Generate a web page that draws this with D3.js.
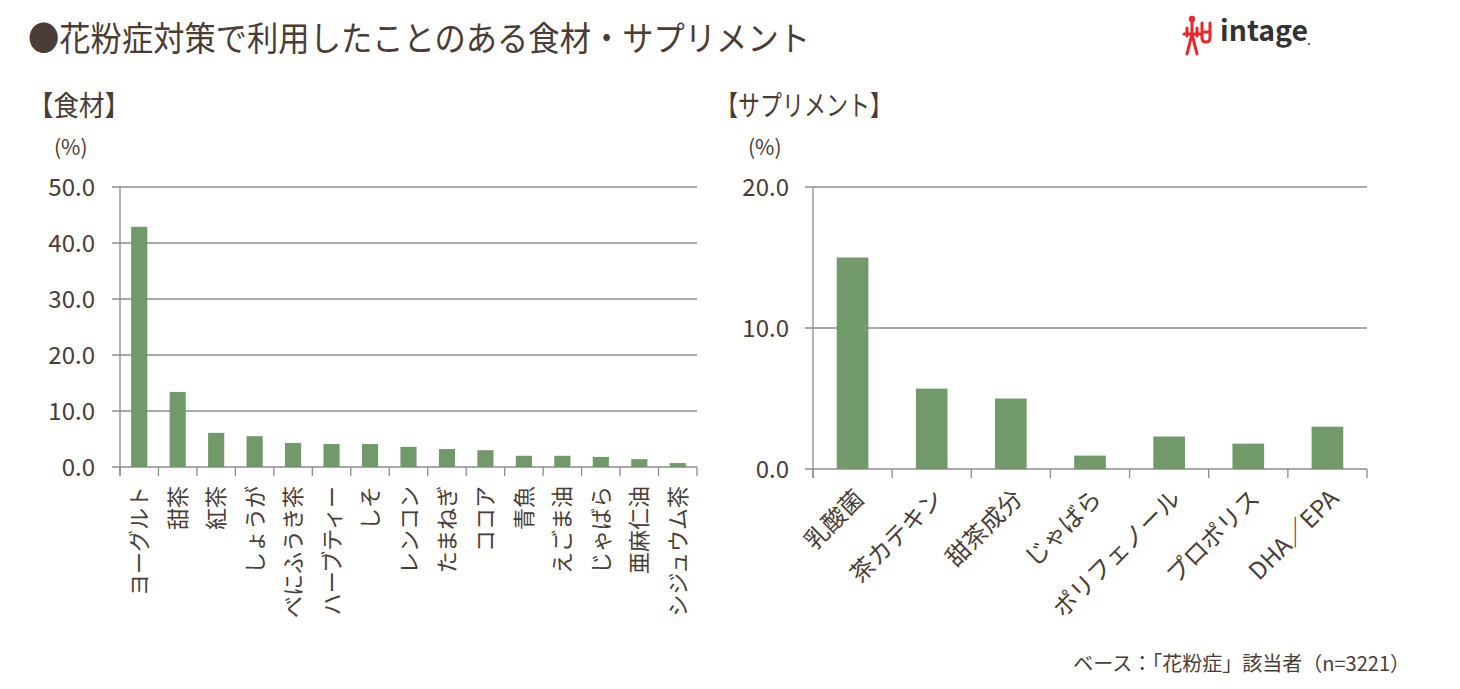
<!DOCTYPE html>
<html><head><meta charset="utf-8">
<script src="https://cdn.jsdelivr.net/npm/d3@7/dist/d3.min.js"></script>
<style>
body{margin:0;background:#fff;}
text{font-family:"Noto Sans CJK JP","Noto Sans",sans-serif;fill:#4a3c36;}
</style></head><body>
<svg id="c" width="1460" height="689"></svg>
<script>
const foodCats = ["ヨーグルト","甜茶","紅茶","しょうが","べにふうき茶","ハーブティー","しそ","レンコン","たまねぎ","ココア","青魚","えごま油","じゃばら","亜麻仁油","シジュウム茶"];
const foodVals = [42.9,13.4,6.1,5.5,4.3,4.1,4.1,3.6,3.2,3.0,2.0,2.0,1.8,1.4,0.7];
const foodTicks = [0,10,20,30,40,50];
const supCats = ["乳酸菌","茶カテキン","甜茶成分","じゃばら","ポリフェノール","プロポリス","DHA／EPA"];
const supVals = [15.0,5.7,5.0,0.95,2.3,1.8,3.0];
const supTicks = [0,10,20];

const svg = d3.select("#c");
const grid = "#8c8c8c", barC = "#71996a";

// title
svg.append("text").attr("x",28).attr("y",51).attr("font-size",34)
  .attr("textLength",782).attr("lengthAdjust","spacingAndGlyphs")
  .text("●花粉症対策で利用したことのある食材・サプリメント");
svg.append("text").attr("x",28).attr("y",116).attr("font-size",28)
  .attr("textLength",102).attr("lengthAdjust","spacingAndGlyphs").text("【食材】");
svg.append("text").attr("x",716).attr("y",116).attr("font-size",28)
  .attr("textLength",176).attr("lengthAdjust","spacingAndGlyphs").text("【サプリメント】");

// logo
const lg = svg.append("g").attr("transform","translate(1183,14)");
const red="#e8262b";
lg.append("circle").attr("cx",9).attr("cy",5).attr("r",3.2).attr("fill",red);
lg.append("path").attr("d","M9,8 L9,20 M1,20 L17,20 M9,20 L4,40 M9,20 L14,40 M4,14 L4,22 M14,14 L14,22 M19,9 L19,24 Q19,28 23,28 Q27,28 27,24 L27,9 M19,18 L27,18")
  .attr("stroke",red).attr("stroke-width",3).attr("fill","none").attr("stroke-linecap","round");
svg.append("text").attr("x",1220).attr("y",41).attr("font-size",28).attr("font-weight","bold")
  .attr("font-family","Roboto, 'Noto Sans', sans-serif").style("fill","#333")
  .attr("textLength",88).attr("lengthAdjust","spacingAndGlyphs").text("intage");
svg.append("circle").attr("cx",1309).attr("cy",44).attr("r",1).attr("fill","#333");

function chart(cats, vals, ticks, x0, x1, yTop, yBot, barFrac, rot, pctX, tickLblRight){
  const x = d3.scaleBand().domain(cats).range([x0,x1]).padding(0);
  const y = d3.scaleLinear().domain([0,ticks[ticks.length-1]]).range([yBot,yTop]);
  const g = svg.append("g");
  g.selectAll(".gl").data(ticks).join("line")
    .attr("x1",x0-8).attr("x2",x1).attr("y1",d=>y(d)).attr("y2",d=>y(d))
    .attr("stroke",grid).attr("stroke-width",1.3);
  g.append("line").attr("x1",x0).attr("x2",x0).attr("y1",yTop).attr("y2",yBot+9).attr("stroke",grid).attr("stroke-width",1.3);
  const bounds = d3.range(cats.length+1).map(i=>x0+i*x.bandwidth());
  g.selectAll(".xt").data(bounds).join("line")
    .attr("x1",d=>d).attr("x2",d=>d).attr("y1",yBot).attr("y2",yBot+9)
    .attr("stroke",grid).attr("stroke-width",1.3);
  const bw = x.bandwidth()*barFrac;
  g.selectAll(".b").data(vals).join("rect")
    .attr("x",(d,i)=>x(cats[i])+(x.bandwidth()-bw)/2).attr("width",bw)
    .attr("y",d=>y(d)).attr("height",d=>yBot-y(d)).attr("fill",barC);
  g.selectAll(".yl").data(ticks).join("text")
    .attr("x",tickLblRight).attr("y",d=>y(d)+9).attr("text-anchor","end").attr("font-size",24)
    .text(d=>d.toFixed(1));
  g.append("text").attr("x",pctX).attr("y",155).attr("font-size",21).text("(%)");
  g.selectAll(".xl").data(cats).join("text")
    .attr("font-size",rot===-90?22:24)
    .attr("text-anchor","end")
    .attr("transform",(d)=>{
      const cx = x(d)+x.bandwidth()/2;
      if(rot===-90) return `translate(${cx+8},${yBot+19}) rotate(-90)`;
      return `translate(${cx+13},${yBot+31}) rotate(-45)`;
    })
    .text(d=>d);
}
chart(foodCats, foodVals, foodTicks, 120, 697, 187, 467, 0.42, -90, 54, 95);
chart(supCats, supVals, supTicks, 813, 1367, 187, 469, 0.4, -45, 748, 789);

svg.append("text").attr("x",1410).attr("y",671).attr("text-anchor","end").attr("font-size",20)
  .text("ベース：「花粉症」該当者（n=3221）");
</script></body></html>
